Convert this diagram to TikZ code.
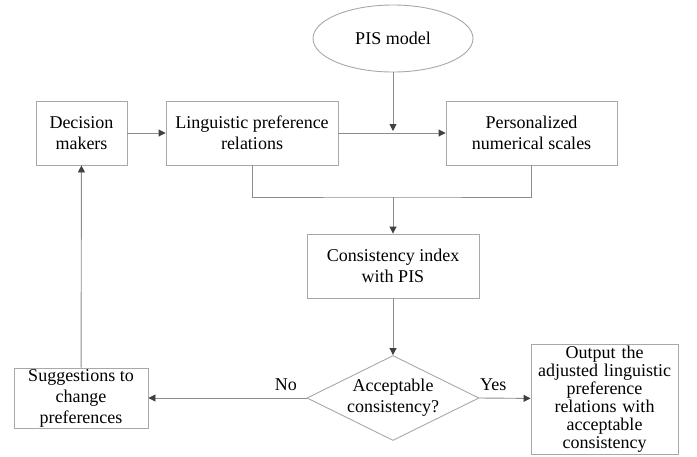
\documentclass[tikz,border=0pt]{standalone}
\usepackage{fontspec}
\setmainfont{Liberation Serif}
\usetikzlibrary{arrows.meta,shapes.geometric}
\definecolor{boxgray}{HTML}{A8A8A8}
\definecolor{linegray}{HTML}{8C8C8C}
\definecolor{tipgray}{HTML}{404040}
\begin{document}
\begin{tikzpicture}[x=1pt, y=-1pt,
    box/.style={draw=boxgray, line width=0.9pt, align=center, inner sep=0pt,
      font=\fontsize{18}{21}\selectfont},
    lbl/.style={font=\fontsize{18}{21}\selectfont, inner sep=7pt},
    link/.style={draw=linegray, line width=0.9pt},
    arrow/.style={link, -{Triangle[length=7pt, width=7pt, color=tipgray]}},
  ]
  \useasboundingbox (0, 0) rectangle (697, 456);

  \node (pis) at (393, 38.5) [ box, ellipse, minimum width=160pt, minimum height=67pt ] {PIS model};

  \node (dm)  at (81.5, 133) [ box, minimum width=91pt,  minimum height=64pt ] {Decision\\makers};
  \node (lpr) at (252, 133)  [ box, minimum width=172pt, minimum height=64pt ] {Linguistic preference\\relations};
  \node (pns) at (531.5, 133) [ box, minimum width=171pt, minimum height=64pt ] {Personalized\\numerical scales};

  \node (ci) at (393, 266) [ box, minimum width=172pt, minimum height=64pt ] {Consistency index\\with PIS};

  \node (ac) at (393, 398) [ box, diamond, aspect=2.02, minimum width=172pt, minimum height=85pt ] {Acceptable\\consistency?};

  \node (sg)  at (81, 398)    [ box, minimum width=134pt, minimum height=60pt ] {Suggestions to\\change\\preferences};
  \node (out) at (604.5, 399) [ box, text width=147pt, minimum height=110pt,
    font=\fontsize{18}{18}\selectfont ] {Output the\\adjusted linguistic\\preference\\relations with\\acceptable\\consistency};

  \coordinate (jn) at (pis.south |- lpr.east);
  \coordinate (mg) at (393, 197);

  \draw [arrow] (dm) -- (lpr);
  \draw [arrow] (lpr) -- (pns);
  \draw [arrow, shorten >=2pt] (pis) -- (jn);

  \draw [link] (lpr.south) |- (mg) -| (pns.south);
  \draw [arrow] (mg) -- (ci);
  \draw [arrow] (ci) -- (ac);

  \draw [arrow] (ac.east) -- node [ lbl, above, pos=0.27 ] {Yes} (out);
  \draw [arrow] (ac.west) -- node [ lbl, above, pos=0.13 ] {No} (sg);
  \draw [arrow] (sg) -- (dm);
\end{tikzpicture}
\end{document}
